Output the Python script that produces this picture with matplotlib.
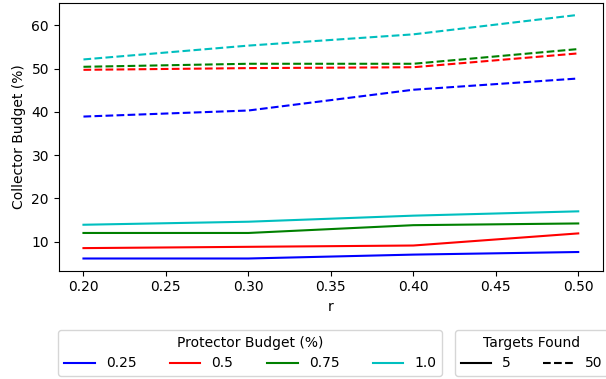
import matplotlib
matplotlib.use("Agg")
import matplotlib.pyplot as plt
from matplotlib.lines import Line2D

r = [0.2, 0.3, 0.4, 0.5]
protector_budgets = ["0.25", "0.5", "0.75", "1.0"]
colors = ["b", "r", "g", "c"]
targets = ["5", "50"]
styles = ["-", "--"]

# Collector budget (%) for Targets Found = 5
solid_025 = [6.1, 6.1, 7.0, 7.6]
solid_050 = [8.5, 8.8, 9.1, 11.9]
solid_075 = [12.0, 12.0, 13.8, 14.2]
solid_100 = [13.9, 14.6, 16.0, 17.0]
# Collector budget (%) for Targets Found = 50
dash_025 = [38.9, 40.3, 45.1, 47.7]
dash_050 = [49.7, 50.1, 50.3, 53.5]
dash_075 = [50.4, 51.1, 51.1, 54.5]
dash_100 = [52.1, 55.3, 57.9, 62.4]

series = {
    "5": [solid_025, solid_050, solid_075, solid_100],
    "50": [dash_025, dash_050, dash_075, dash_100],
}

fig = plt.figure(figsize=(6.06, 3.79), dpi=100)
ax = fig.add_axes([0.0969, 0.2858, 0.8981, 0.7071])

for t, ls in zip(targets, styles):
    for vals, c in zip(series[t], colors):
        ax.plot(r, vals, color=c, linestyle=ls, linewidth=1.5)

ax.set_xlabel("r")
ax.set_ylabel("Collector Budget (%)")
ax.set_xticks([0.20, 0.25, 0.30, 0.35, 0.40, 0.45, 0.50])
ax.set_xticklabels(["0.20", "0.25", "0.30", "0.35", "0.40", "0.45", "0.50"])

h1 = [Line2D([], [], color=c, lw=1.5) for c in colors]
leg1 = fig.legend(h1, protector_budgets, title="Protector Budget (%)", ncol=4,
                  loc="upper left", bbox_to_anchor=(0.0964, 0.1293),
                  borderaxespad=0, handlelength=2.2, columnspacing=2.42)
h2 = [Line2D([], [], color="k", lw=1.5, linestyle=ls) for ls in styles]
leg2 = fig.legend(h2, targets, title="Targets Found", ncol=2,
                  loc="upper left", bbox_to_anchor=(0.7508, 0.1293),
                  borderaxespad=0, handlelength=2.2, columnspacing=2.3)

fig.savefig("out.png", dpi=100)
